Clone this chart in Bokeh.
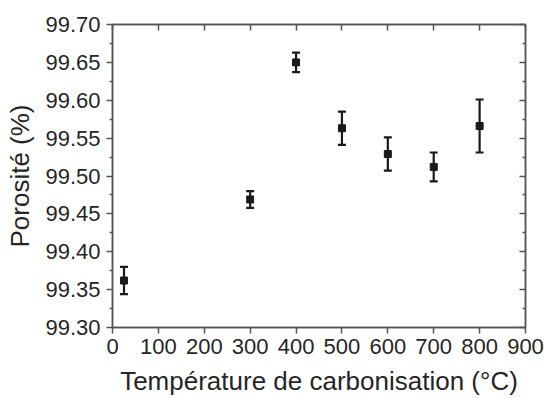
from bokeh.plotting import figure
from bokeh.models import (ColumnDataSource, Whisker, TeeHead, LinearAxis,
                          FixedTicker, NumeralTickFormatter, Range1d,
                          CustomJSTickFormatter)
from bokeh.embed import file_html
from bokeh.resources import INLINE

# ---- data ----
temperature = [25, 300, 400, 500, 600, 700, 800]
porosity = [99.362, 99.469, 99.650, 99.563, 99.529, 99.512, 99.566]
error = [0.018, 0.011, 0.013, 0.022, 0.022, 0.019, 0.035]

x_ticks = [0, 100, 200, 300, 400, 500, 600, 700, 800, 900]
y_ticks = [99.30, 99.35, 99.40, 99.45, 99.50, 99.55, 99.60, 99.65, 99.70]
y_minor = [99.325, 99.375, 99.425, 99.475, 99.525, 99.575, 99.625, 99.675]

x_label = "Température de carbonisation (°C)"
y_label = "Porosité (%)"

lower = [v - e for v, e in zip(porosity, error)]
upper = [v + e for v, e in zip(porosity, error)]
source = ColumnDataSource(dict(x=temperature, y=porosity, lower=lower, upper=upper))

FONT = "Liberation Sans"
AX = "#555555"
TXT = "#262626"
INK = "#1a1a1a"

p = figure(width=544, height=398, output_backend="svg", toolbar_location=None,
           x_range=Range1d(0, 900), y_range=Range1d(99.30, 99.70),
           min_border_left=112, min_border_right=19, min_border_top=24,
           min_border_bottom=70, x_axis_location=None, y_axis_location=None)
p.grid.visible = False
p.outline_line_color = AX
p.outline_line_width = 1.5
p.background_fill_color = "white"
p.border_fill_color = "white"

xt = FixedTicker(ticks=x_ticks, minor_ticks=[])
yt = FixedTicker(ticks=y_ticks, minor_ticks=y_minor)
blank = CustomJSTickFormatter(code="return ''")


def style(ax):
    ax.axis_line_color = AX
    ax.axis_line_width = 1.5
    ax.major_tick_line_color = AX
    ax.major_tick_line_width = 1.5
    ax.minor_tick_line_color = AX
    ax.minor_tick_line_width = 1.5
    ax.major_label_text_font = FONT
    ax.major_label_text_font_size = "22px"
    ax.major_label_text_color = TXT
    ax.axis_label_text_font = FONT
    ax.axis_label_text_font_size = "26px"
    ax.axis_label_text_font_style = "normal"
    ax.axis_label_text_color = TXT


bottom = LinearAxis(ticker=xt, axis_label=x_label)
style(bottom)
bottom.major_tick_in = 0
bottom.major_tick_out = 6
bottom.minor_tick_line_color = None
bottom.major_label_standoff = 5
bottom.axis_label_standoff = 9
p.add_layout(bottom, "below")

left = LinearAxis(ticker=yt, axis_label=y_label,
                  formatter=NumeralTickFormatter(format="0.00"))
style(left)
left.major_tick_in = 0
left.major_tick_out = 6
left.minor_tick_in = 0
left.minor_tick_out = 3
left.major_label_standoff = 6
left.axis_label_standoff = 7
p.add_layout(left, "left")

top = LinearAxis(ticker=xt, formatter=blank)
style(top)
top.major_tick_in = 6
top.major_tick_out = 0
top.minor_tick_line_color = None
top.major_label_standoff = 0
p.add_layout(top, "above")

right = LinearAxis(ticker=yt, formatter=blank)
style(right)
right.major_tick_in = 6
right.major_tick_out = 0
right.minor_tick_in = 3
right.minor_tick_out = 0
right.major_label_standoff = 0
p.add_layout(right, "right")

whisk = Whisker(base="x", lower="lower", upper="upper", source=source,
                line_color=INK, line_width=2.2,
                upper_head=TeeHead(size=8, line_color=INK, line_width=2.2),
                lower_head=TeeHead(size=8, line_color=INK, line_width=2.2))
p.add_layout(whisk)

p.scatter("x", "y", source=source, marker="square", size=7,
          fill_color=INK, line_color=INK)

open("out.html", "w").write(file_html(p, INLINE))
